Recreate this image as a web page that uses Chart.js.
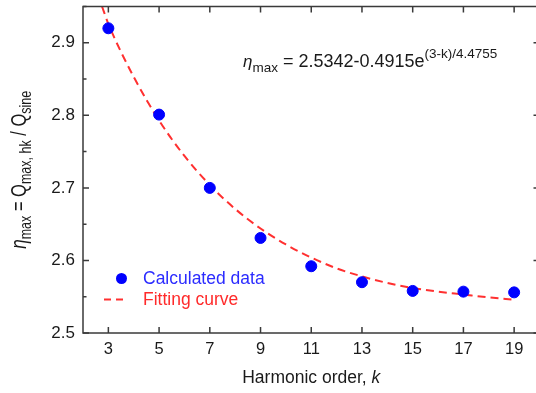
<!DOCTYPE html>
<html>
<head>
<meta charset="utf-8">
<script src="https://cdn.jsdelivr.net/npm/chart.js@4.4.1/dist/chart.umd.min.js"></script>
<style>
  html, body { margin: 0; padding: 0; background: #fff; overflow: hidden; }
  #wrap { width: 546px; height: 393px; }
</style>
</head>
<body>
<div id="wrap"><canvas id="chart" width="546" height="393"></canvas></div>
<script>
// harmonic orders and calculated eta_max
const orders = [3, 5, 7, 9, 11, 13, 15, 17, 19];
const etaCalc = [2.920, 2.801, 2.700, 2.631, 2.592, 2.570, 2.558, 2.557, 2.556];

// fitting curve
const fitK = [2.75, 3, 4, 5, 6, 7, 8, 9, 10, 11, 12, 13, 14, 15, 16, 17, 18, 19];
const fitEta = [2.95, 2.926, 2.853, 2.793, 2.744, 2.704, 2.671, 2.644, 2.622, 2.604, 2.589, 2.578, 2.569, 2.562, 2.557, 2.553, 2.549, 2.546];

const xTicks = [3, 5, 7, 9, 11, 13, 15, 17, 19];
const yTicks = [2.5, 2.6, 2.7, 2.8, 2.9];
const yMinor = [2.55, 2.65, 2.75, 2.85, 2.95];

const FONT = '"Liberation Sans", Arial, sans-serif';
const AXIS = '#3a3a3a';

// draws a run of text pieces with sub/superscripts, returns width
function richText(ctx, parts, x, y, measureOnly) {
  let w = 0;
  parts.forEach(p => {
    const size = p.size || 15;
    ctx.font = (p.italic ? 'italic ' : '') + size + 'px ' + FONT;
    const dy = p.dy || 0;
    if (!measureOnly) ctx.fillText(p.t, x + w, y + dy);
    w += ctx.measureText(p.t).width;
  });
  return w;
}

const framePlugin = {
  id: 'frame',
  afterDraw(chart) {
    const ctx = chart.ctx;
    const a = chart.chartArea;
    const xs = chart.scales.x;
    const ys = chart.scales.y;
    ctx.save();

    // box + inward ticks
    ctx.strokeStyle = AXIS;
    ctx.lineWidth = 1.5;
    ctx.strokeRect(a.left, a.top, a.right - a.left, a.bottom - a.top);
    ctx.beginPath();
    xTicks.forEach(v => {
      const px = xs.getPixelForValue(v);
      ctx.moveTo(px, a.bottom); ctx.lineTo(px, a.bottom - 6);
      ctx.moveTo(px, a.top); ctx.lineTo(px, a.top + 6);
    });
    yTicks.forEach(v => {
      const py = ys.getPixelForValue(v);
      ctx.moveTo(a.left, py); ctx.lineTo(a.left + 6, py);
      ctx.moveTo(a.right, py); ctx.lineTo(a.right - 6, py);
    });
    yMinor.forEach(v => {
      const py = ys.getPixelForValue(v);
      ctx.moveTo(a.left, py); ctx.lineTo(a.left + 3.5, py);
      ctx.moveTo(a.right, py); ctx.lineTo(a.right - 3.5, py);
    });
    ctx.stroke();

    // legend
    ctx.fillStyle = '#0000ff';
    ctx.beginPath();
    ctx.arc(121.5, 278.5, 5.5, 0, Math.PI * 2);
    ctx.fill();
    ctx.strokeStyle = '#ff3030';
    ctx.lineWidth = 2;
    ctx.setLineDash([7, 5]);
    ctx.beginPath();
    ctx.moveTo(104, 299.5); ctx.lineTo(128, 299.5);
    ctx.stroke();
    ctx.setLineDash([]);
    ctx.textBaseline = 'alphabetic';
    ctx.font = '17.5px ' + FONT;
    ctx.fillStyle = '#2b2bff';
    ctx.fillText('Calculated data', 143, 283.5);
    ctx.fillStyle = '#ff2a2a';
    ctx.fillText('Fitting curve', 143, 305);

    // fit equation
    ctx.fillStyle = '#1a1a1a';
    richText(ctx, [
      { t: 'η', italic: true, size: 17 },
      { t: 'max', size: 13.5, dy: 5 },
      { t: ' = 2.5342-0.4915e', size: 18 },
      { t: '(3-k)/4.4755', size: 13.5, dy: -9 }
    ], 243, 67);

    // x title
    const xParts = [{ t: 'Harmonic order, ', size: 17.5 }, { t: 'k', italic: true, size: 17.5 }];
    const xw = richText(ctx, xParts, 0, 0, true);
    richText(ctx, xParts, (a.left + a.right) / 2 - xw / 2, 383);

    // y title, rotated (glyphs a bit taller than wide, like the source)
    const yParts = [
      { t: 'η', italic: true, size: 17 },
      { t: 'max', size: 12.5, dy: 4 },
      { t: ' = Q', size: 16.5 },
      { t: 'max, hk', size: 12.5, dy: 4 },
      { t: ' / Q', size: 16.5 },
      { t: 'sine', size: 12.5, dy: 4 }
    ];
    const yw = richText(ctx, yParts, 0, 0, true);
    ctx.translate(25.5, (a.top + a.bottom) / 2);
    ctx.rotate(-Math.PI / 2);
    ctx.scale(1, 1.3);
    richText(ctx, yParts, -yw / 2, 0);

    ctx.restore();
  }
};

new Chart(document.getElementById('chart'), {
  type: 'scatter',
  data: {
    datasets: [
      {
        label: 'Calculated data',
        data: orders.map((k, i) => ({ x: k, y: etaCalc[i] })),
        backgroundColor: '#0000ff',
        borderColor: '#0000ff',
        pointRadius: 5.5,
        pointHoverRadius: 5.5,
        order: 0
      },
      {
        label: 'Fitting curve',
        data: fitK.map((k, i) => ({ x: k, y: fitEta[i] })),
        showLine: true,
        borderColor: '#ff3030',
        borderWidth: 2,
        borderDash: [8, 5],
        pointRadius: 0,
        cubicInterpolationMode: 'monotone',
        order: 1
      }
    ]
  },
  options: {
    responsive: false,
    animation: false,
    layout: { padding: { top: 3, right: 5.6, left: 0, bottom: 0 } },
    plugins: { legend: { display: false }, tooltip: { enabled: false } },
    scales: {
      x: {
        type: 'linear',
        min: 2,
        max: 20,
        afterBuildTicks: s => { s.ticks = xTicks.map(v => ({ value: v })); },
        afterFit: s => { s.height = 60; s.paddingLeft = 0; s.paddingRight = 0; },
        grid: { display: false, drawTicks: false },
        border: { display: false },
        ticks: { padding: 7, color: '#1a1a1a', font: { family: FONT, size: 16.5 } }
      },
      y: {
        min: 2.5,
        max: 2.95,
        afterBuildTicks: s => { s.ticks = yTicks.map(v => ({ value: v })); },
        afterFit: s => { s.width = 83; s.paddingTop = 0; s.paddingBottom = 0; },
        grid: { display: false, drawTicks: false },
        border: { display: false },
        ticks: {
          padding: 8,
          color: '#1a1a1a',
          font: { family: FONT, size: 17 },
          callback: v => v.toFixed(1)
        }
      }
    }
  },
  plugins: [framePlugin]
});
</script>
</body>
</html>
